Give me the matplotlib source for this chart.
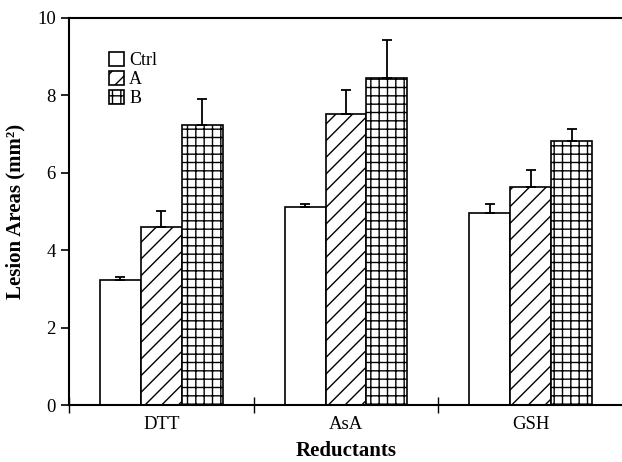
import matplotlib
matplotlib.use('Agg')
import matplotlib.pyplot as plt
import numpy as np

plt.rcParams['font.family'] = ['Liberation Serif', 'DejaVu Serif']
plt.rcParams['hatch.linewidth'] = 1.0

groups = ['DTT', 'AsA', 'GSH']
series = ['Ctrl', 'A', 'B']
values = {
    'Ctrl': [3.22, 5.12, 4.97],
    'A': [4.60, 7.52, 5.64],
    'B': [7.24, 8.44, 6.82],
}
errors = {
    'Ctrl': [0.09, 0.07, 0.23],
    'A': [0.41, 0.62, 0.43],
    'B': [0.67, 0.99, 0.31],
}
hatches = {'Ctrl': '', 'A': '//', 'B': '++'}

fig = plt.figure(figsize=(6.22, 4.62), dpi=100)
ax = fig.add_axes([69 / 622, 57 / 462, 554 / 622, 387 / 462])

width = 0.222
centers = np.arange(len(groups)) + 0.5
for i, s in enumerate(series):
    x = centers + (i - 1) * width
    ax.bar(x, values[s], width, color='white', edgecolor='black',
           hatch=hatches[s], linewidth=1.2, label=s, zorder=2)
    ax.errorbar(x, values[s], yerr=[np.zeros(3), errors[s]], fmt='none',
                ecolor='black', elinewidth=1.3, capsize=3.5, capthick=1.3, zorder=3)

ax.set_xlim(0, 3)
ax.set_ylim(0, 10)
ax.set_yticks([0, 2, 4, 6, 8, 10])
ax.set_xticks([0, 1, 2, 3])
ax.set_xticklabels([])
ax.set_xticks(centers, minor=True)
ax.set_xticklabels(groups, minor=True)
ax.tick_params(axis='x', which='major', direction='inout', length=12, width=1)
ax.tick_params(axis='x', which='minor', length=0, pad=8, labelsize=13.5)
ax.tick_params(axis='y', direction='out', length=6, width=1.2, labelsize=13.5)

ax.spines['right'].set_visible(False)
for sp in ['left', 'bottom', 'top']:
    ax.spines[sp].set_linewidth(1.5)

ax.set_xlabel('Reductants', fontsize=15, fontweight='bold', labelpad=6)
ax.set_ylabel('Lesion Areas (mm²)', fontsize=15, fontweight='bold', labelpad=8)

ax.legend(loc='upper left', bbox_to_anchor=(0.06, 0.93), frameon=False,
          fontsize=13, handlelength=0.8, handleheight=0.8, handletextpad=0.3,
          labelspacing=0.1, borderaxespad=0)

fig.savefig('out.png', dpi=100)
